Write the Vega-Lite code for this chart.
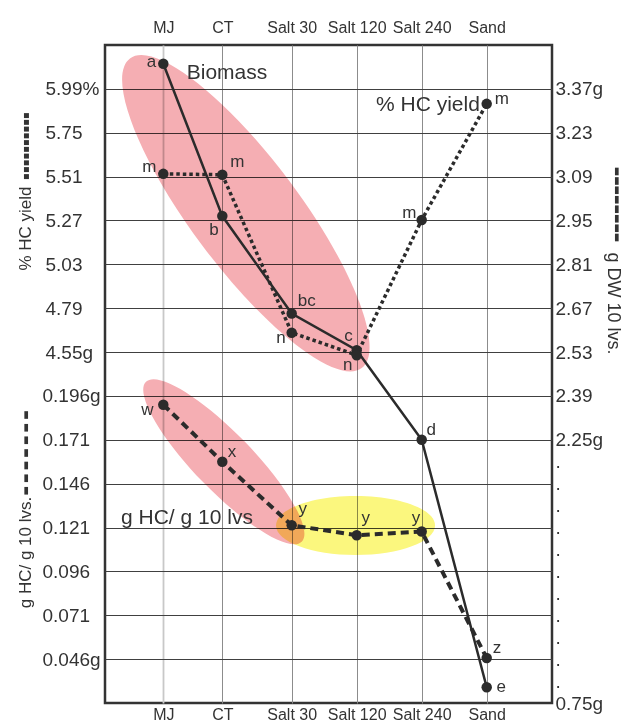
{
  "$schema": "https://vega.github.io/schema/vega-lite/v6.json",
  "width": 447,
  "height": 658,
  "autosize": {"type": "none"},
  "padding": {"left": 105, "top": 45, "right": 71, "bottom": 22},
  "background": "white",
  "datasets": {
    "treatments": [
      {"i": 0, "treatment": "MJ", "biomass": 3.45, "pct": 5.525, "ghc": 0.191},
      {"i": 1, "treatment": "CT", "biomass": 2.964, "pct": 5.52, "ghc": 0.1585},
      {"i": 2, "treatment": "Salt 30", "biomass": 2.653, "pct": 4.656, "ghc": 0.1223},
      {"i": 3, "treatment": "Salt 120", "biomass": 2.536, "pct": 4.533, "ghc": 0.1166},
      {"i": 4, "treatment": "Salt 240", "biomass": 2.25, "pct": 5.273, "ghc": 0.1187},
      {"i": 5, "treatment": "Sand", "biomass": 0.84, "pct": 5.908, "ghc": 0.0466}
    ],
    "letters": [
      {"series": "biomass", "letter": "a", "i": -0.181, "biomass": 3.457},
      {"series": "biomass", "letter": "b", "i": 0.859, "biomass": 2.918},
      {"series": "biomass", "letter": "bc", "i": 2.231, "biomass": 2.694},
      {"series": "biomass", "letter": "c", "i": 2.872, "biomass": 2.582},
      {"series": "biomass", "letter": "d", "i": 4.145, "biomass": 2.282},
      {"series": "biomass", "letter": "e", "i": 5.221, "biomass": 0.84},
      {"series": "pct", "letter": "m", "i": -0.216, "pct": 5.565},
      {"series": "pct", "letter": "m", "i": 1.216, "pct": 5.589},
      {"series": "pct", "letter": "n", "i": 1.847, "pct": 4.629},
      {"series": "pct", "letter": "n", "i": 2.862, "pct": 4.478},
      {"series": "pct", "letter": "m", "i": 3.809, "pct": 5.312},
      {"series": "pct", "letter": "m", "i": 5.23, "pct": 5.932},
      {"series": "ghc", "letter": "w", "i": -0.247, "ghc": 0.1882},
      {"series": "ghc", "letter": "x", "i": 1.14, "ghc": 0.1638},
      {"series": "ghc", "letter": "y", "i": 2.169, "ghc": 0.1314},
      {"series": "ghc", "letter": "y", "i": 3.138, "ghc": 0.1267},
      {"series": "ghc", "letter": "y", "i": 3.912, "ghc": 0.1267},
      {"series": "ghc", "letter": "z", "i": 5.159, "ghc": 0.0523}
    ],
    "titles": [
      {"series": "biomass", "text": "Biomass", "i": 0.397, "biomass": 3.42},
      {"series": "pct", "text": "% HC yield", "i": 3.297, "pct": 5.902},
      {"series": "ghc", "text": "g HC/ g 10 lvs", "i": -0.653, "ghc": 0.1263}
    ],
    "groups": [
      {"id": "biomass", "i": 1.339, "biomass": 2.973},
      {"id": "hc_early", "i": 1.022, "ghc": 0.1585},
      {"id": "hc_salt", "i": 2.982, "ghc": 0.1222}
    ]
  },
  "layer": [
    {
      "data": {"name": "groups"},
      "transform": [{"filter": "datum.id === 'hc_salt'"}],
      "mark": {"type": "point", "shape": "M -1 0 C -1 -0.2049 -0.5523 -0.371 0 -0.371 C 0.5523 -0.371 1 -0.2049 1 0 C 1 0.2049 0.5523 0.371 0 0.371 C -0.5523 0.371 -1 0.2049 -1 0 Z", "size": 25281, "filled": true, "color": "#fbf77e", "opacity": 1, "strokeWidth": 0, "blend": "multiply"},
      "encoding": {
        "x": {"field": "i", "type": "quantitative", "scale": {"domain": [-0.9, 0, 1, 2, 5, 6], "range": [0, 58.3, 117.3, 186.7, 381.7, 447]}, "axis": null},
        "y": {"field": "ghc", "type": "quantitative", "scale": {"domain": [0.021, 0.396]}, "axis": null}
      }
    },
    {
      "data": {"name": "groups"},
      "transform": [{"filter": "datum.id === 'hc_early'"}],
      "mark": {"type": "point", "shape": "M -1 0 C -1 -0.1436 -0.5523 -0.26 0 -0.26 C 0.5523 -0.26 1 -0.1436 1 0 C 1 0.1436 0.5523 0.26 0 0.26 C -0.5523 0.26 -1 0.1436 -1 0 Z", "size": 49863, "angle": 45.8, "filled": true, "color": "#f5aeb3", "opacity": 1, "strokeWidth": 0, "blend": "multiply"},
      "encoding": {
        "x": {"field": "i", "type": "quantitative", "scale": {"domain": [-0.9, 0, 1, 2, 5, 6], "range": [0, 58.3, 117.3, 186.7, 381.7, 447]}, "axis": null},
        "y": {"field": "ghc", "type": "quantitative", "scale": {"domain": [0.021, 0.396]}, "axis": null}
      }
    },
    {
      "data": {"name": "groups"},
      "transform": [{"filter": "datum.id === 'biomass'"}],
      "mark": {"type": "point", "shape": "M -1 0 C -1 -0.1546 -0.5523 -0.28 0 -0.28 C 0.5523 -0.28 1 -0.1546 1 0 C 1 0.1546 0.5523 0.28 0 0.28 C -0.5523 0.28 -1 0.1546 -1 0 Z", "size": 149604, "angle": 53.2, "filled": true, "color": "#f5aeb3", "opacity": 1, "strokeWidth": 0, "blend": "multiply"},
      "encoding": {
        "x": {"field": "i", "type": "quantitative", "scale": {"domain": [-0.9, 0, 1, 2, 5, 6], "range": [0, 58.3, 117.3, 186.7, 381.7, 447]}, "axis": null},
        "y": {"field": "biomass", "type": "quantitative", "scale": {"domain": [0.75, 2.25, 3.51], "range": [658, 394.8, 0]}, "axis": null}
      }
    },
    {
      "data": {"name": "treatments"},
      "encoding": {
        "x": {"field": "i", "type": "quantitative", "scale": {"domain": [-0.9, 0, 1, 2, 5, 6], "range": [0, 58.3, 117.3, 186.7, 381.7, 447]},
              "axis": {"orient": "top", "values": [0, 1, 2, 3, 4, 5], "labelExpr": "['MJ','CT','Salt 30','Salt 120','Salt 240','Sand'][datum.value]", "labelFontSize": 16, "labelPadding": 10, "grid": false, "title": null}},
        "y": {"field": "biomass", "type": "quantitative", "scale": {"domain": [0.75, 2.25, 3.51], "range": [658, 394.8, 0]},
              "axis": {"orient": "right", "values": [3.37, 3.23, 3.09, 2.95, 2.81, 2.67, 2.53, 2.39, 2.25, 2.125, 2, 1.875, 1.75, 1.625, 1.5, 1.375, 1.25, 1.125, 1, 0.875, 0.75],
                       "labelExpr": "datum.value > 2.2 ? ((abs(datum.value - 3.37) < 0.001 || abs(datum.value - 2.25) < 0.001) ? format(datum.value, '.2f') + 'g' : format(datum.value, '.2f')) : (datum.value < 0.8 ? '0.75g' : '.')",
                       "labelFontSize": 19, "labelAlign": "left", "labelPadding": 3, "grid": false,
                       "title": "g DW 10 lvs.", "titleFontSize": 18, "titleX": 60, "titleY": 258, "titleAngle": 90, "titleAlign": "center", "titleBaseline": "middle"}}
      },
      "layer": [
        {"mark": {"type": "line", "color": "#2b2b2b", "strokeWidth": 2.5}, "encoding": {}},
        {"mark": {"type": "point", "filled": true, "color": "#2b2b2b", "size": 110, "opacity": 1}, "encoding": {}},
        {"data": {"name": "letters"}, "transform": [{"filter": "datum.series === 'biomass'"}],
         "mark": {"type": "text", "fontSize": 17, "color": "#333", "font": "Liberation Sans"},
         "encoding": {"text": {"field": "letter"}}}
      ]
    },
    {
      "data": {"name": "titles"},
      "transform": [{"filter": "datum.series === 'biomass'"}],
      "mark": {"type": "text", "fontSize": 21, "align": "left", "color": "#333", "font": "Liberation Sans"},
      "encoding": {
        "x": {"field": "i", "type": "quantitative", "scale": {"domain": [-0.9, 0, 1, 2, 5, 6], "range": [0, 58.3, 117.3, 186.7, 381.7, 447]}, "axis": null},
        "y": {"field": "biomass", "type": "quantitative", "scale": {"domain": [0.75, 2.25, 3.51], "range": [658, 394.8, 0]},
              "axis": {"orient": "right", "labels": false, "grid": false, "title": "▬▬▬▬▬▬▬▬", "titleFont": "DejaVu Sans", "titleFontSize": 10, "titleX": 64, "titleY": 159, "titleAngle": 90, "titleAlign": "center", "titleBaseline": "middle"}},
        "text": {"field": "text"}
      }
    },
    {
      "data": {"name": "treatments"},
      "encoding": {
        "x": {"field": "i", "type": "quantitative", "scale": {"domain": [-0.9, 0, 1, 2, 5, 6], "range": [0, 58.3, 117.3, 186.7, 381.7, 447]},
              "axis": {"orient": "bottom", "values": [0, 1, 2, 3, 4, 5], "labelExpr": "['MJ','CT','Salt 30','Salt 120','Salt 240','Sand'][datum.value]", "labelFontSize": 16, "labelPadding": 3, "grid": true,
                       "gridColor": {"condition": {"test": "datum.value === 0", "value": "#c8c8c8"}, "value": "#8c8c8c"},
                       "gridWidth": {"condition": {"test": "datum.value === 0", "value": 1.8}, "value": 1}, "title": null}},
        "y": {"field": "pct", "type": "quantitative", "scale": {"domain": [2.63, 6.23]},
              "axis": {"orient": "left", "values": [5.99, 5.75, 5.51, 5.27, 5.03, 4.79, 4.55],
                       "labelExpr": "datum.value > 5.9 ? '5.99%' : (datum.value < 4.6 ? '4.55g' : format(datum.value, '.2f'))",
                       "labelFontSize": 19, "labelAlign": "left", "labelPadding": 60, "grid": true, "gridColor": "#404040", "gridWidth": 1.2,
                       "title": "% HC yield", "titleFontSize": 17, "titleX": -80, "titleY": 183, "titleAngle": -90, "titleAlign": "center", "titleBaseline": "middle"}}
      },
      "layer": [
        {"mark": {"type": "line", "color": "#2b2b2b", "strokeWidth": 3.5, "strokeDash": [3.5, 3]}, "encoding": {}},
        {"mark": {"type": "point", "filled": true, "color": "#2b2b2b", "size": 110, "opacity": 1}, "encoding": {}},
        {"data": {"name": "letters"}, "transform": [{"filter": "datum.series === 'pct'"}],
         "mark": {"type": "text", "fontSize": 17, "color": "#333", "font": "Liberation Sans"},
         "encoding": {"text": {"field": "letter"}}}
      ]
    },
    {
      "data": {"name": "titles"},
      "transform": [{"filter": "datum.series === 'pct'"}],
      "mark": {"type": "text", "fontSize": 21, "align": "left", "color": "#333", "font": "Liberation Sans"},
      "encoding": {
        "x": {"field": "i", "type": "quantitative", "scale": {"domain": [-0.9, 0, 1, 2, 5, 6], "range": [0, 58.3, 117.3, 186.7, 381.7, 447]}, "axis": null},
        "y": {"field": "pct", "type": "quantitative", "scale": {"domain": [2.63, 6.23]},
              "axis": {"orient": "left", "labels": false, "grid": false, "title": "▪▪▪▪▪▪▪▪▪▪", "titleFont": "DejaVu Sans", "titleFontSize": 10, "titleX": -80, "titleY": 100.5, "titleAngle": -90, "titleAlign": "center", "titleBaseline": "middle"}},
        "text": {"field": "text"}
      }
    },
    {
      "data": {"name": "treatments"},
      "encoding": {
        "x": {"field": "i", "type": "quantitative", "scale": {"domain": [-0.9, 0, 1, 2, 5, 6], "range": [0, 58.3, 117.3, 186.7, 381.7, 447]}, "axis": null},
        "y": {"field": "ghc", "type": "quantitative", "scale": {"domain": [0.021, 0.396]},
              "axis": {"orient": "left", "values": [0.196, 0.171, 0.146, 0.121, 0.096, 0.071, 0.046],
                       "labelExpr": "datum.value > 0.19 ? '0.196g' : (datum.value < 0.05 ? '0.046g' : format(datum.value, '.3f'))",
                       "labelFontSize": 19, "labelAlign": "left", "labelPadding": 63, "grid": true, "gridColor": "#404040", "gridWidth": 1.2,
                       "title": "g HC/ g 10 lvs.", "titleFontSize": 17, "titleX": -80, "titleY": 507, "titleAngle": -90, "titleAlign": "center", "titleBaseline": "middle"}}
      },
      "layer": [
        {"mark": {"type": "line", "color": "#2b2b2b", "strokeWidth": 4, "strokeDash": [8, 5]}, "encoding": {}},
        {"mark": {"type": "point", "filled": true, "color": "#2b2b2b", "size": 110, "opacity": 1}, "encoding": {}},
        {"data": {"name": "letters"}, "transform": [{"filter": "datum.series === 'ghc'"}],
         "mark": {"type": "text", "fontSize": 17, "color": "#333", "font": "Liberation Sans"},
         "encoding": {"text": {"field": "letter"}}}
      ]
    },
    {
      "data": {"name": "titles"},
      "transform": [{"filter": "datum.series === 'ghc'"}],
      "mark": {"type": "text", "fontSize": 21, "align": "left", "color": "#333", "font": "Liberation Sans"},
      "encoding": {
        "x": {"field": "i", "type": "quantitative", "scale": {"domain": [-0.9, 0, 1, 2, 5, 6], "range": [0, 58.3, 117.3, 186.7, 381.7, 447]}, "axis": null},
        "y": {"field": "ghc", "type": "quantitative", "scale": {"domain": [0.021, 0.396]},
              "axis": {"orient": "left", "labels": false, "grid": false, "title": "▬ ▬ ▬ ▬ ▬ ▬ ▬", "titleFont": "DejaVu Sans", "titleFontSize": 10, "titleX": -80, "titleY": 407.5, "titleAngle": -90, "titleAlign": "center", "titleBaseline": "middle"}},
        "text": {"field": "text"}
      }
    }
  ],
  "resolve": {
    "scale": {"x": "independent", "y": "independent"},
    "axis": {"x": "independent", "y": "independent"}
  },
  "config": {
    "view": {"stroke": "#333", "strokeWidth": 2.5},
    "font": "Liberation Sans",
    "axis": {"ticks": false, "tickSize": 0, "domain": false, "labelColor": "#333", "titleColor": "#333", "labelFont": "Liberation Sans", "titleFont": "Liberation Sans", "titleFontWeight": "normal", "labelOverlap": false, "labelFlush": false}
  }
}
